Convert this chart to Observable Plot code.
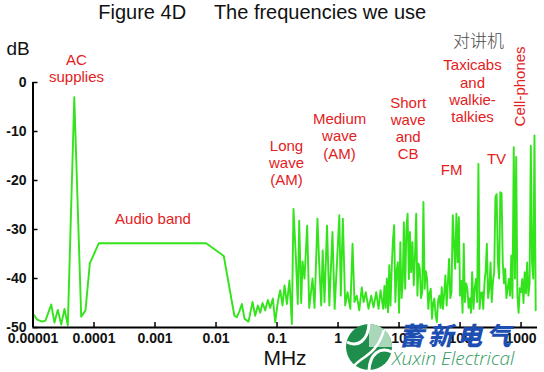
<!DOCTYPE html>
<html><head><meta charset="utf-8">
<script src="https://cdn.jsdelivr.net/npm/d3@7"></script>
<script src="https://cdn.jsdelivr.net/npm/@observablehq/plot@0.6"></script>
<style>
body{margin:0;background:#fff;}
#wrap{position:relative;width:544px;height:372px;overflow:hidden;background:#fff;}
#wm1{position:absolute;left:399px;top:322px;font-family:"Noto Sans CJK SC",sans-serif;font-weight:900;font-style:italic;font-size:25px;letter-spacing:4px;color:#1d4fb3;line-height:1;white-space:nowrap;}
#wm2{position:absolute;left:392px;top:349px;font-family:"Open Sans","DejaVu Sans",sans-serif;font-weight:300;font-style:italic;font-size:19px;color:#2e9a5e;line-height:1;white-space:nowrap;}
#logo{position:absolute;left:344px;top:322px;}
</style></head><body>
<div id="wrap"></div>
<script>
// spectrum trace (frequency in MHz, level in dB)
const freqMHz = [
  1.0e-5, 1.17e-5, 1.41e-5, 1.6e-5, 1.99e-5, 2.25e-5, 2.55e-5, 2.9e-5, 3.28e-5, 3.72e-5,
  4.75e-5, 6.17e-5, 7.25e-5, 8.54e-5, 1.2e-4, 6.9e-3, 1.34e-2, 2.0e-2,
  2.19e-2, 2.45e-2, 2.65e-2, 2.93e-2, 3.41e-2, 3.97e-2, 4.39e-2, 4.85e-2, 5.31e-2, 5.78e-2,
  6.4e-2, 7.07e-2, 7.74e-2, 8.54e-2, 9.34e-2, 0.103, 0.113, 0.123, 0.133, 0.145,
  0.16, 0.175, 0.186, 0.203, 0.219, 0.231, 0.249, 0.262, 0.282, 0.312,
  0.337, 0.382, 0.412, 0.46, 0.49, 0.53, 0.56, 0.6, 0.66, 0.72,
  0.81, 0.88, 1.05, 1.11, 1.2, 1.31, 1.43, 1.59, 1.73, 1.86,
  2.03, 2.23, 2.45, 2.62, 2.85, 3.16, 3.5, 3.82, 4.23, 4.61,
  4.98,
  5.5, 5.76, 6.03, 6.31, 6.61, 6.92, 7.24, 7.58, 7.94, 8.31,
  8.7, 9.1, 9.55, 10.0, 10.5, 11.0, 11.5, 12.0, 12.6, 13.2,
  13.8, 14.5, 15.1, 15.8, 16.6, 17.4, 18.2, 19.1, 20.0, 20.9,
  21.9, 22.9, 24.0, 25.1, 26.3, 27.5, 28.8, 30.2, 31.6, 33.1,
  34.7, 36.3, 38.0, 39.8, 41.7, 43.7, 45.7, 47.9, 50.1, 52.5,
  55.0, 57.5, 60.3, 63.1, 66.1, 69.2, 72.4, 75.9, 79.4, 83.2,
  87.1, 91.2, 95.5, 100, 105, 110, 115, 120, 126, 132,
  138, 145, 151, 158, 166, 174, 182, 191, 200, 209,
  219, 229, 240, 251, 263, 275, 288, 302, 316, 331,
  347, 363, 380, 398, 417, 437, 457, 479, 501, 525,
  550, 575, 603, 631, 661, 692, 724, 759, 794, 832,
  871, 912, 955, 1000, 1047, 1096, 1148, 1202, 1259, 1318,
  1380, 1445, 1514, 1585, 1660, 1738
];
const levelDb = [
  -47.2, -48.4, -48.8, -48.6, -45.3, -49.0, -46.4, -49.4, -46.2, -49.6,
  -3.0, -47.8, -46.5, -36.9, -32.8, -32.8, -35.4, -47.6,
  -47.9, -46.5, -45.2, -48.2, -48.8, -44.8, -47.6, -45.5, -47.0, -45.0,
  -46.5, -44.4, -46.0, -44.1, -48.9, -44.8, -42.4, -45.5, -41.4, -45.2,
  -40.4, -49.3, -25.8, -35.3, -45.2, -28.2, -45.0, -36.5, -40.0, -29.2,
  -46.0, -40.0, -46.0, -27.8, -36.7, -45.5, -34.3, -44.8, -29.2, -45.5,
  -30.5, -46.2, -27.1, -43.5, -27.8, -45.5, -42.8, -46.2, -32.9, -44.8,
  -43.5, -46.5, -41.8, -44.8, -42.8, -46.2, -43.5, -45.9, -42.8, -46.2,
  -42.4,
  -46.2, -41.5, -46.0, -40.0, -46.9, -37.3, -45.5, -38.0, -32.2, -29.1,
  -44.8, -38.5, -36.7, -47.0, -32.6, -44.0, -40.8, -28.5, -42.1, -29.9,
  -26.8, -40.1, -30.5, -38.7, -32.6, -41.4, -36.0, -26.8, -43.5, -37.0,
  -38.0, -44.0, -42.8, -24.4, -42.1, -38.5, -40.1, -46.2, -43.0, -42.1,
  -48.2, -45.0, -44.1, -47.5, -48.9, -44.5, -43.5, -46.0, -41.8, -46.2,
  -43.0, -39.4, -45.5, -41.0, -36.0, -44.0, -42.8, -27.1, -32.6, -38.0,
  -26.8, -36.7, -27.5, -43.5, -40.5, -47.0, -32.9, -44.8, -41.0, -42.1,
  -46.0, -44.0, -47.0, -38.7, -46.2, -42.0, -40.1, -44.8, -16.6, -46.2,
  -43.0, -42.8, -46.2, -41.0, -38.4, -32.9, -44.0, -42.1, -36.7, -44.8,
  -40.5, -38.7, -23.4, -22.8, -36.7, -40.0, -22.4, -22.6, -36.7, -41.0,
  -38.0, -44.0, -42.1, -40.1, -43.5, -35.3, -44.0, -13.2, -40.0, -15.2,
  -43.5, -47.0, -42.0, -42.8, -40.1, -45.0, -38.7, -43.0, -36.7, -43.5,
  -41.0, -12.9, -36.7, -40.0, -10.8, -46.5
];

// axes
const xTickValues = [0.00001, 0.0001, 0.001, 0.01, 0.1, 1, 10, 100, 1000];
const xTickLabels = ["0.00001", "0.0001", "0.001", "0.01", "0.1", "1", "10", "100", "1000"];
const yTickValues = [-50, -40, -30, -20, -10, 0];
const xDomain = [0.00001, 1860];
const yDomain = [-50, 0];

// band annotations (red)
const bandText = ["AC\nsupplies", "Audio band", "Long\nwave\n(AM)", "Medium\nwave\n(AM)", "Short\nwave\nand\nCB", "FM", "Taxicabs\nand\nwalkie-\ntalkies", "TV"];
const bandFreq = [5.17e-5, 9.27e-4, 0.143, 1.06, 14.1, 72.6, 160, 396];
const bandDb = [2.9, -27.8, -16.3, -10.9, -9.3, -17.8, -1.7, -15.5];
const verticalText = ["Cell-phones"];
const verticalFreq = [981];
const verticalDb = [-0.8];
const noteText = ["对讲机"];
const noteFreq = [201];
const noteDb = [8.4];

const titleText = "Figure 4D\u00a0\u00a0\u00a0\u00a0\u00a0The frequencies we use";

const data = freqMHz.map((f, i) => ({f, db: levelDb[i]}));
const font = "'Liberation Sans', Arial, Helvetica, sans-serif";
const red = "#e3211d";

const chart = Plot.plot({
  width: 544,
  height: 372,
  marginLeft: 32.5,
  marginRight: 7,
  marginTop: 82,
  marginBottom: 45,
  style: {fontFamily: font, background: "#fff", overflow: "visible"},
  x: {type: "log", domain: xDomain, label: null},
  y: {domain: yDomain, label: null},
  marks: [
    Plot.axisX({ticks: xTickValues, tickFormat: d => xTickLabels[xTickValues.indexOf(d)], tickSize: -5, tickPadding: 10.5, fontSize: 14, fontWeight: "bold", stroke: "#000", fill: "#111", strokeWidth: 1.5, label: null}),
    Plot.axisY({ticks: yTickValues, tickFormat: d => String(d), tickSize: -5, tickPadding: 11.5, fontSize: 14, fontWeight: "bold", stroke: "#000", fill: "#111", strokeWidth: 1.5, label: null}),
    Plot.line(data, {x: "f", y: "db", stroke: "#33e31b", strokeWidth: 1.9, strokeLinejoin: "round"}),
    Plot.ruleX([xDomain[0]], {stroke: "#000", strokeWidth: 2}),
    Plot.ruleY([yDomain[0]], {stroke: "#000", strokeWidth: 2}),
    Plot.text(bandText, {x: (d, i) => bandFreq[i], y: (d, i) => bandDb[i], text: d => d, fill: red, fontSize: 15, lineHeight: 1.15, lineAnchor: "middle", textAnchor: "middle"}),
    Plot.text(verticalText, {x: (d, i) => verticalFreq[i], y: (d, i) => verticalDb[i], text: d => d, fill: red, fontSize: 15, rotate: -90, textAnchor: "middle", lineAnchor: "middle"}),
    Plot.text(noteText, {x: (d, i) => noteFreq[i], y: (d, i) => noteDb[i], text: d => d, fill: "#4a4a4a", fontSize: 17, fontFamily: "'Noto Sans CJK SC', sans-serif", fontWeight: 300, textAnchor: "middle", lineAnchor: "middle"}),
    Plot.text([titleText], {frameAnchor: "top", dx: -23, dy: -70, fontSize: 20, fill: "#111", lineAnchor: "middle", text: d => d}),
    Plot.text(["dB"], {frameAnchor: "top-left", dx: -15, dy: -34, fontSize: 19, fill: "#111", lineAnchor: "middle", textAnchor: "middle", text: d => d}),
    Plot.text(["MHz"], {frameAnchor: "bottom-left", dx: 252, dy: 31, fontSize: 21, fill: "#111", lineAnchor: "middle", textAnchor: "middle", text: d => d})
  ]
});
const wrap = document.getElementById("wrap");
wrap.appendChild(chart);
wrap.insertAdjacentHTML("beforeend", `
<svg id="logo" width="52" height="52" viewBox="0 0 52 52">
  <circle cx="25" cy="25" r="23" fill="#1f8d4c"/>
  <path d="M25,25 L25,2 A23,23 0 0 1 48,25 Z" fill="#a9d7b9"/>
  <path d="M3,20 C14,26 24,18 25,2" fill="none" stroke="#fff" stroke-width="3"/>
  <path d="M48,30 C36,24 26,32 25,48" fill="none" stroke="#fff" stroke-width="3"/>
  <path d="M10,44 C18,34 32,34 40,8" fill="none" stroke="#fff" stroke-width="2.5"/>
</svg>
<div id="wm1">蓄新电气</div>
<div id="wm2">Xuxin Electrical</div>`);
</script>
</body></html>
